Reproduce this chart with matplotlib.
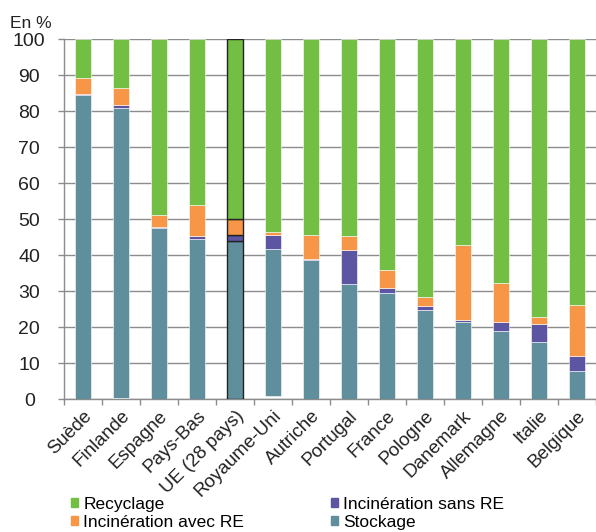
import matplotlib
matplotlib.use("Agg")
import matplotlib.pyplot as plt
from matplotlib.patches import Patch
import numpy as np

plt.rcParams["font.family"] = ["Liberation Sans", "DejaVu Sans"]

countries = ["Suède", "Finlande", "Espagne", "Pays-Bas", "UE (28 pays)",
             "Royaume-Uni", "Autriche", "Portugal", "France", "Pologne",
             "Danemark", "Allemagne", "Italie", "Belgique"]

# Share of each treatment route, in % (stacked from the bottom)
autres = [0.0, 0.3, 0.0, 0.0, 0.0, 0.8, 0.0, 0.0, 0.0, 0.0, 0.0, 0.0, 0.0, 0.0]
stockage = [84.4, 80.4, 47.4, 44.4, 43.8, 40.8, 38.6, 31.9, 29.4, 24.7, 21.4, 18.9, 15.9, 7.9]
incin_sans_re = [0.3, 0.9, 0.3, 0.9, 1.7, 3.9, 0.3, 9.6, 1.5, 1.0, 0.6, 2.4, 5.0, 4.1]
incin_avec_re = [4.5, 4.7, 3.4, 8.6, 4.6, 0.9, 6.7, 3.7, 5.0, 2.6, 20.7, 10.8, 1.9, 14.2]
recyclage = [10.8, 13.7, 48.9, 46.1, 49.9, 53.6, 54.4, 54.8, 64.1, 71.7, 57.3, 67.9, 77.2, 73.8]

yticks = list(range(0, 101, 10))

c_recy = "#72BF44"
c_avec = "#F79646"
c_sans = "#5B55A3"
c_stock = "#5F8F9D"
txt = "#222222"
grid = "#8c8c8c"

fig = plt.figure(figsize=(5.96, 5.32), dpi=100)
ax = fig.add_axes([64 / 596, 133 / 532, 532 / 596, 360 / 532])

x = np.arange(len(countries))
w = 0.42
ue = countries.index("UE (28 pays)")
edges = ["#222222" if i == ue else "#ffffff" for i in x]
lws = [1.0 if i == ue else 0.4 for i in x]

bottom = np.array(autres, dtype=float)
series = [(stockage, c_stock), (incin_sans_re, c_sans),
          (incin_avec_re, c_avec), (recyclage, c_recy)]
for vals, col in series:
    ax.bar(x, vals, w, bottom=bottom, color=col, edgecolor=edges,
           linewidth=lws, zorder=3)
    bottom = bottom + np.array(vals)

ax.set_xlim(-0.5, len(countries) - 0.5)
ax.set_ylim(0, 100)
ax.set_yticks(yticks)
ax.set_yticklabels([str(t) for t in yticks], fontsize=14, color=txt)
for lbl in ax.get_yticklabels():
    lbl.set_horizontalalignment("center")
ax.yaxis.grid(True, color=grid, linewidth=1.0, zorder=0)
ax.set_axisbelow(True)

ax.set_xticks(x)
ax.set_xticklabels(countries, rotation=45, ha="right", rotation_mode="anchor",
                   fontsize=13.5, color=txt)
ax.tick_params(axis="x", length=0, pad=6)
ax.set_xticks(np.arange(-0.5, len(countries), 1), minor=True)
ax.tick_params(axis="x", which="minor", length=4, color=grid, width=1)
ax.tick_params(axis="y", length=4, color=grid, width=1, pad=21)

for s in ["top", "right"]:
    ax.spines[s].set_visible(False)
for s in ["left", "bottom"]:
    ax.spines[s].set_color(grid)
    ax.spines[s].set_linewidth(1.0)

fig.text(10 / 596, 1 - 23 / 532, "En %", fontsize=12.5, color=txt,
         va="center", ha="left")

handles = [Patch(color=c_recy, label="Recyclage"),
           Patch(color=c_avec, label="Incinération avec RE"),
           Patch(color=c_sans, label="Incinération sans RE"),
           Patch(color=c_stock, label="Stockage")]
fig.legend(handles=handles, ncol=2, loc="upper left",
           bbox_to_anchor=(71 / 596, 1 - 497 / 532), frameon=False,
           fontsize=12.5, handlelength=0.4, handleheight=0.4,
           handletextpad=0.3, labelspacing=0.15, columnspacing=5.0,
           borderaxespad=0, borderpad=0)

fig.savefig("out.png", dpi=100)
